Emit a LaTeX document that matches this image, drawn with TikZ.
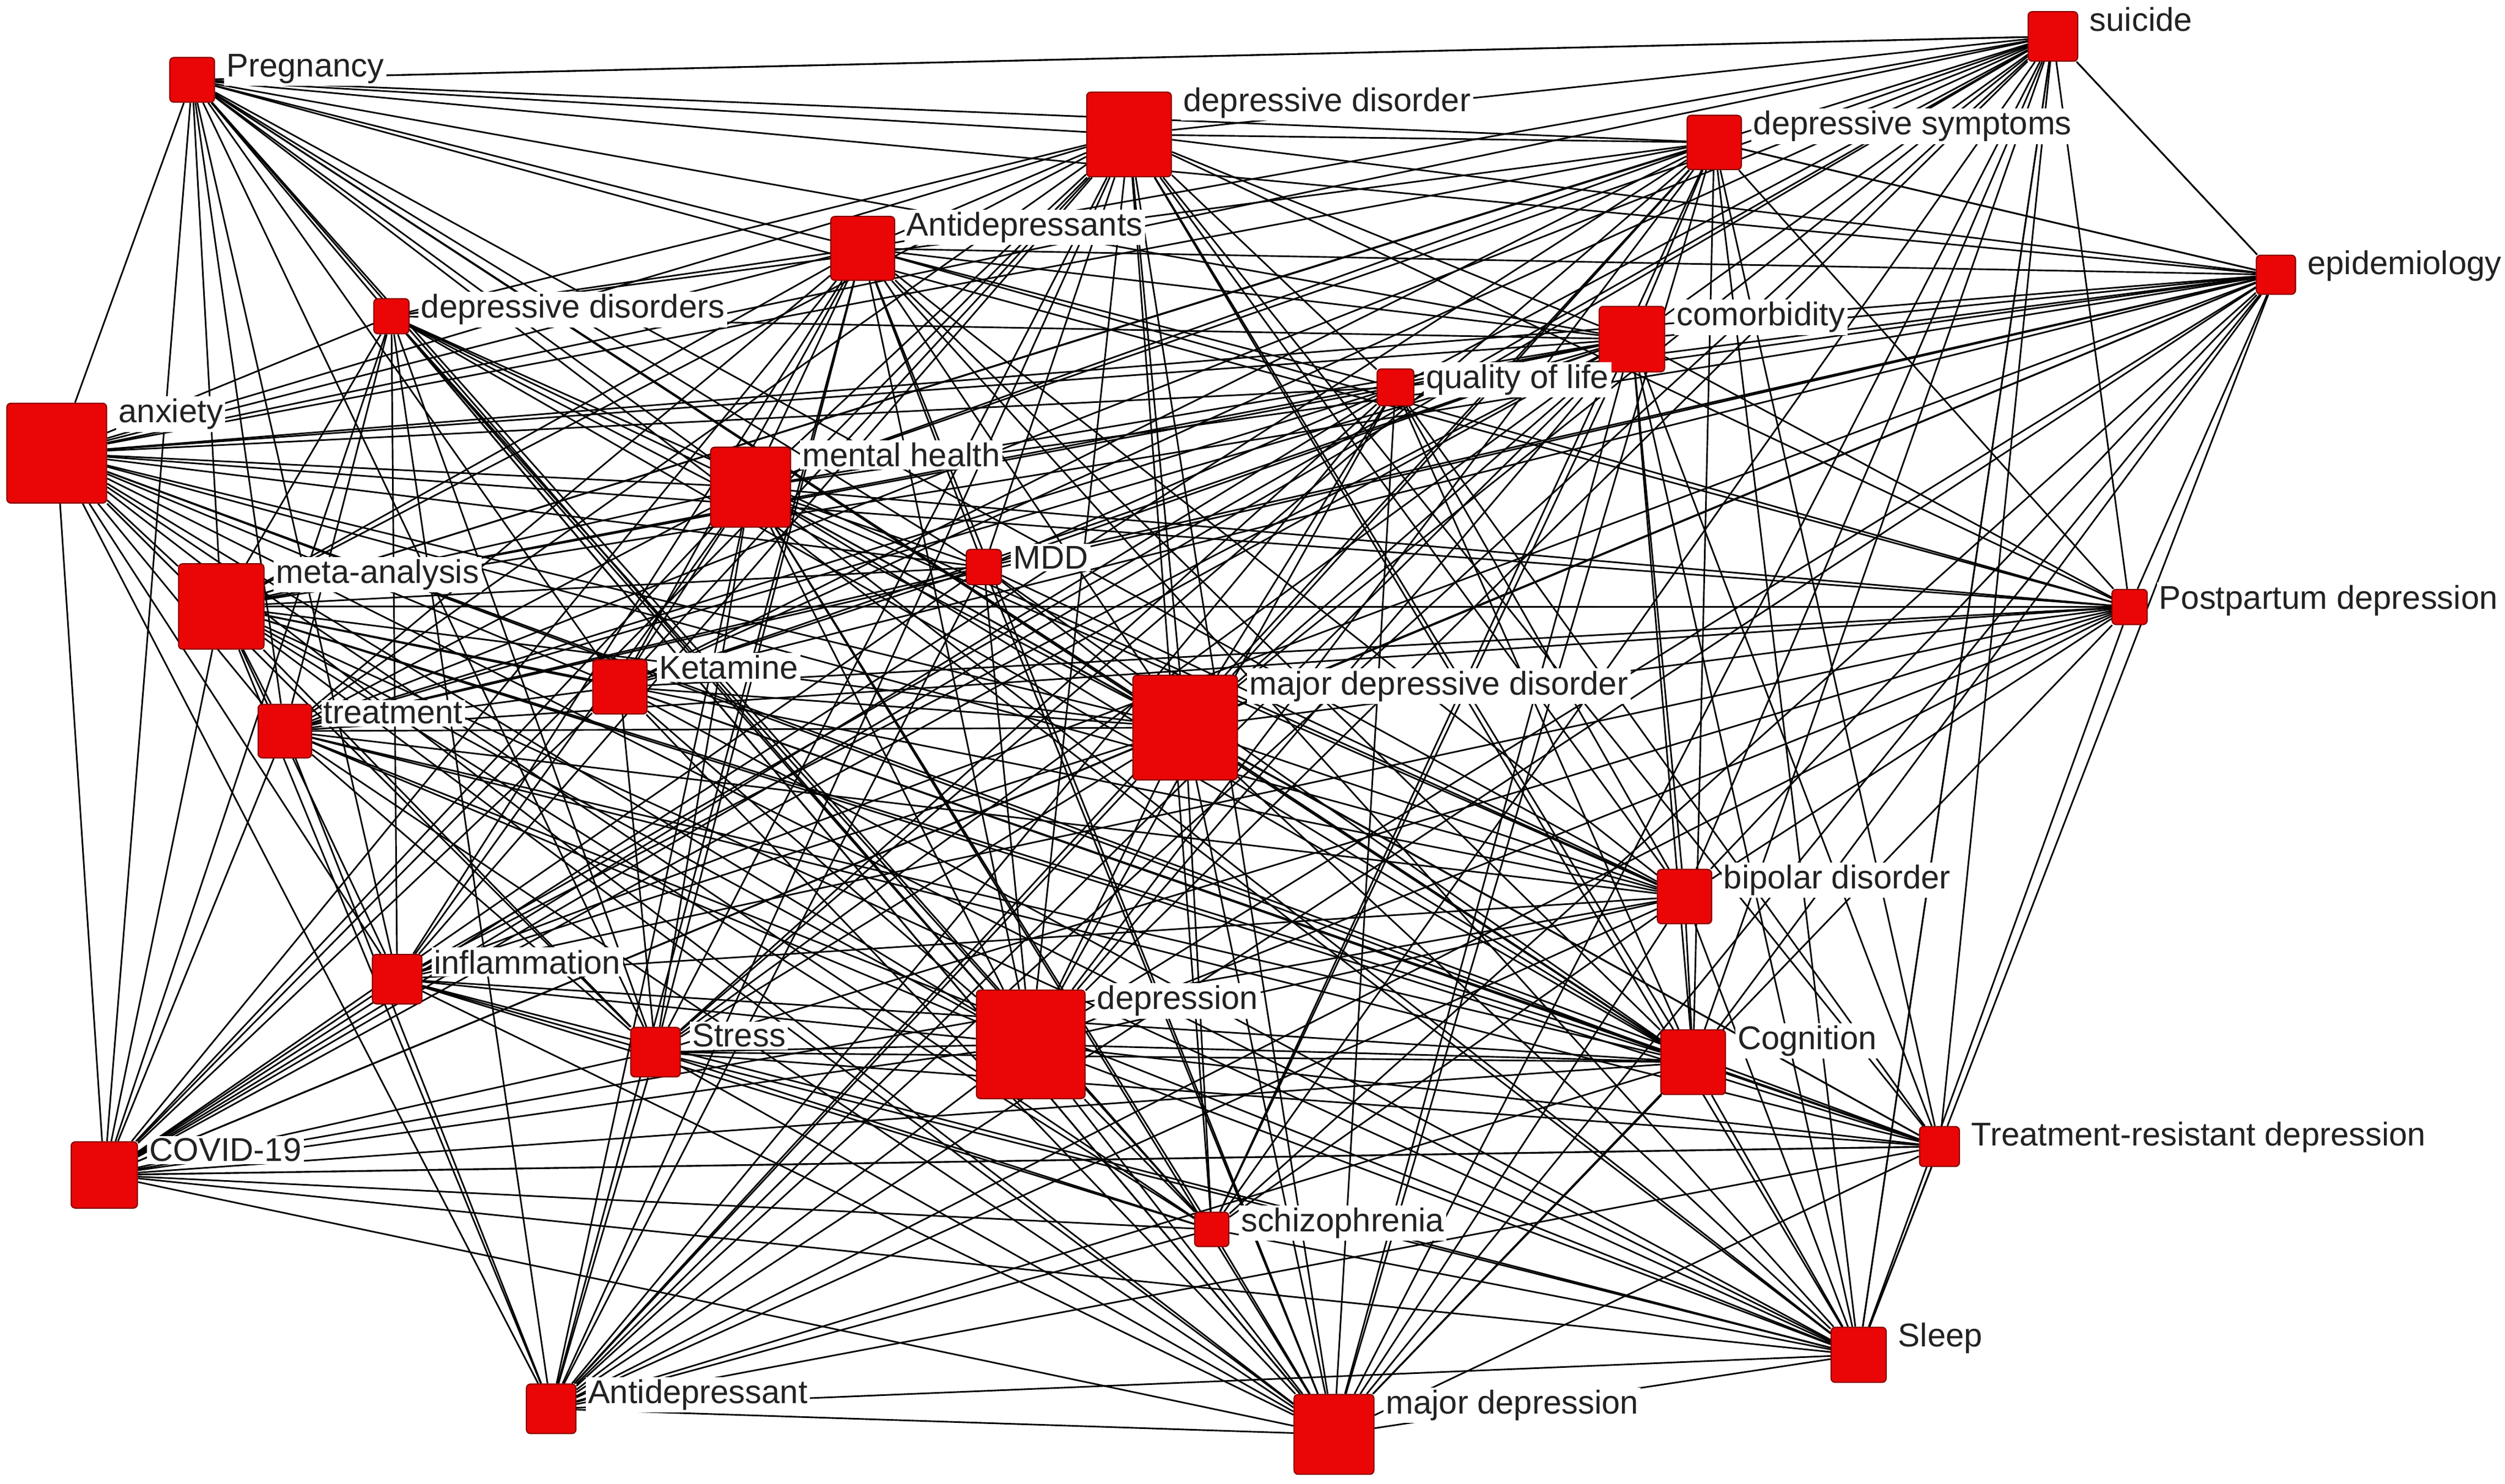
\documentclass[tikz,border=0pt]{standalone}
\usepackage{fontspec}
\setmainfont{Liberation Sans}
\pgfdeclarelayer{bg}
\pgfdeclarelayer{edges}
\pgfdeclarelayer{labels}
\pgfsetlayers{bg,edges,main,labels}
\definecolor{nodered}{RGB}{234,6,6}
\definecolor{nodeborder}{RGB}{130,0,0}
\definecolor{labtext}{RGB}{34,34,34}
\tikzset{
  kw/.style={draw=nodeborder, fill=nodered, rectangle, rounded corners=2.5pt, line width=0.7pt, inner sep=0pt},
  lab/.style={fill=white, text=labtext, inner sep=1.5pt, anchor=base west, font=\fontsize{20.6}{24}\selectfont},
  edge/.style={draw=black, line width=1pt},
}
\foreach \k/\v in {1/28,2/52,3/34,4/31,5/24,6/40,7/22,8/41,9/23,10/62,11/50,12/22,13/54,14/22,15/34,16/34,17/66,18/34,19/31,20/70,21/31,22/40,23/42,24/25,25/22,26/34,27/31,28/50}
  {\expandafter\xdef\csname kwsz\k\endcsname{\v}}
\begin{document}
\begin{tikzpicture}[x=1pt,y=-1pt]
\useasboundingbox (0,0) rectangle (1568,928.74);
\begin{pgfonlayer}{bg}
\fill[white] (0,0) rectangle (1568,928.74);
\end{pgfonlayer}
% nodes
\node[kw,minimum size=28pt] (n1) at (120.3,50) {};
\node[kw,minimum size=53pt] (n2) at (706.7,84.2) {};
\node[kw,minimum size=34pt] (n3) at (1073,89.2) {};
\node[kw,minimum size=31pt] (n4) at (1285,22.8) {};
\node[kw,minimum size=24.5pt] (n5) at (1424.6,172) {};
\node[kw,minimum size=40pt] (n6) at (540,155.5) {};
\node[kw,minimum size=22pt] (n7) at (245,198) {};
\node[kw,minimum size=41pt] (n8) at (1021.5,212.3) {};
\node[kw,minimum size=23pt] (n9) at (873.5,242.5) {};
\node[kw,minimum size=62.5pt] (n10) at (35.5,283.7) {};
\node[kw,minimum size=50pt] (n11) at (469.8,305) {};
\node[kw,minimum size=22pt] (n12) at (615.8,355) {};
\node[kw,minimum size=53.5pt] (n13) at (138.5,379.7) {};
\node[kw,minimum size=22pt] (n14) at (1333,380) {};
\node[kw,minimum size=34pt] (n15) at (388,430) {};
\node[kw,minimum size=33.5pt] (n16) at (178.3,457.7) {};
\node[kw,minimum size=65.5pt] (n17) at (741.8,455.5) {};
\node[kw,minimum size=34pt] (n18) at (1054.4,561.3) {};
\node[kw,minimum size=31pt] (n19) at (248.6,613) {};
\node[kw,minimum size=68pt] (n20) at (645.2,653.8) {};
\node[kw,minimum size=31pt] (n21) at (410.3,658.7) {};
\node[kw,minimum size=40.5pt] (n22) at (1059.8,665) {};
\node[kw,minimum size=41.5pt] (n23) at (65.3,735.6) {};
\node[kw,minimum size=25pt] (n24) at (1214,717.8) {};
\node[kw,minimum size=21.5pt] (n25) at (758.5,769.7) {};
\node[kw,minimum size=34.5pt] (n26) at (1163.4,848.2) {};
\node[kw,minimum size=31pt] (n27) at (345,882) {};
\node[kw,minimum size=50pt] (n28) at (835,898) {};
% labels
\begin{pgfonlayer}{labels}
\foreach \k/\t in {1/Pregnancy, 2/depressive disorder, 3/depressive symptoms, 4/suicide, 5/epidemiology, 6/Antidepressants, 7/depressive disorders, 8/comorbidity, 9/quality of life, 10/anxiety, 11/mental health, 12/MDD, 13/meta-analysis, 14/Postpartum depression, 15/Ketamine, 16/treatment, 17/major depressive disorder, 18/bipolar disorder, 19/inflammation, 20/depression, 21/Stress, 22/Cognition, 23/COVID-19, 24/Treatment-resistant depression, 25/schizophrenia, 26/Sleep, 27/Antidepressant, 28/major depression}
  \node[lab] (l\k) at ([xshift=5.5pt,yshift=-12.5pt]n\k.north east) {\t};
\end{pgfonlayer}
% edges
\begin{pgfonlayer}{edges}
\pgfmathsetseed{7}
\foreach \i in {1,...,27}{
  \pgfmathtruncatemacro\ni{\i+1}
  \foreach \j in {\ni,...,28}{
    \pgfmathsetmacro\pp{(\csname kwsz\i\endcsname+\csname kwsz\j\endcsname-28)/48}
    \pgfmathsetmacro\rr{rnd}
    \pgfmathtruncatemacro\skip{(\i==23)&&(\j==27)}
    \ifnum\skip=0
      \ifdim\rr pt<\pp pt \draw[edge] (n\i) -- (n\j);\fi
    \fi
  }
}
\foreach \a/\b in {1/4, 4/5, 24/26, 14/26, 4/24, 4/26, 3/5, 23/24}
  \draw[edge] (n\a) -- (n\b);
\end{pgfonlayer}
\end{tikzpicture}
\end{document}
